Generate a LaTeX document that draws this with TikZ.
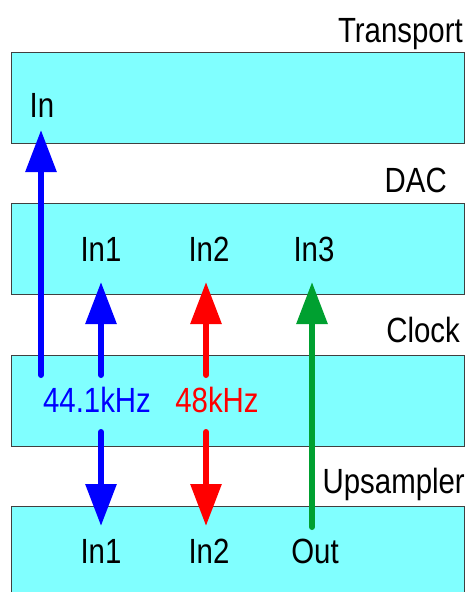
\documentclass[tikz,border=0pt]{standalone}
\usepackage{fontspec}
\setmainfont[FakeStretch=0.84]{Liberation Sans}
\usetikzlibrary{arrows.meta}
\definecolor{boxfill}{RGB}{128,255,255}
\definecolor{boxline}{RGB}{64,64,64}
\definecolor{sigblue}{RGB}{0,0,255}
\definecolor{sigred}{RGB}{255,0,0}
\definecolor{siggreen}{RGB}{0,160,48}
\begin{document}
\begin{tikzpicture}[x=1pt,y=-1pt,
  unit/.style={draw=boxline, fill=boxfill, line width=1.2pt, anchor=north west,
    minimum width=453pt, minimum height=91pt, inner sep=0pt},
  lbl/.style={anchor=base, inner sep=0pt, font=\fontsize{35}{38}\selectfont},
  ttl/.style={anchor=base east, inner sep=0pt, font=\fontsize{35}{38}\selectfont},
  sig/.style={line width=6pt, line cap=round, -{Triangle[length=42pt,width=30pt]}}]
\clip (0,0) rectangle (472,592);
\fill[white] (0,0) rectangle (472,592);
% boxes
\node[unit] (transport) at (11,52) {};
\node[unit] (dac) at (11,203) {};
\node[unit] (clock) at (11,355) {};
\node[unit, minimum height=120pt] (upsampler) at (11,506) {};
% titles
\node[ttl] (transportlbl) at (463,42) {Transport};
\node[ttl] (daclbl) at (447,192) {DAC};
\node[ttl] (clocklbl) at (460,342) {Clock};
\node[ttl] (upsamplerlbl) at (465,493) {Upsampler};
% port labels
\node[lbl] (tin) at (42,117) {In};
\node[lbl] (din1) at (101,261) {In1};
\node[lbl] (din2) at (209,261) {In2};
\node[lbl] (din3) at (314,261) {In3};
\node[lbl, text=sigblue] (c44) at (97,412) {44.1kHz};
\node[lbl, text=sigred] (c48) at (217,412) {48kHz};
\node[lbl] (uin1) at (101,563) {In1};
\node[lbl] (uin2) at (209,563) {In2};
\node[lbl] (uout) at (315,563) {Out};
% connector ends
\coordinate (tinTip) at (41,130);
\coordinate (c44Up) at (41,375);
\coordinate (din1Tip) at (101,282);
\coordinate (c44Up2) at (101,375);
\coordinate (din2Tip) at (206,282);
\coordinate (c48Up) at (206,375);
\coordinate (din3Tip) at (312,282);
\coordinate (uoutTop) at (312,527);
\coordinate (c44Down) at (101,432);
\coordinate (uin1Tip) at (101,526);
\coordinate (c48Down) at (206,432);
\coordinate (uin2Tip) at (206,526);
% signals
\draw[sig, sigblue] (c44Up) -- (tinTip);
\draw[sig, sigblue] (c44Up2) -- (din1Tip);
\draw[sig, sigred] (c48Up) -- (din2Tip);
\draw[sig, siggreen] (uoutTop) -- (din3Tip);
\draw[sig, sigblue] (c44Down) -- (uin1Tip);
\draw[sig, sigred] (c48Down) -- (uin2Tip);
\end{tikzpicture}
\end{document}
